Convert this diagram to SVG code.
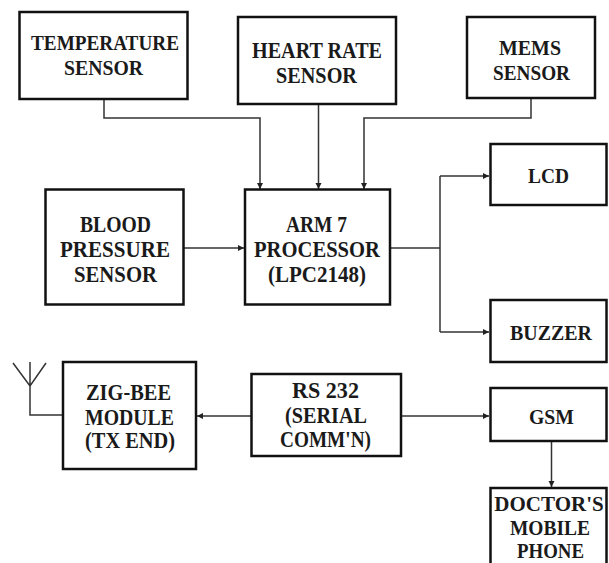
<svg xmlns="http://www.w3.org/2000/svg" width="609" height="563" viewBox="0 0 609 563">
<style>
.box{fill:#fff;stroke:#111;stroke-width:2.5}
.t{font-family:"Liberation Serif","DejaVu Serif","Times New Roman",serif;font-weight:bold;fill:#1a1a1a}
.c{fill:none;stroke:#333;stroke-width:1.5}
</style>
<defs>
<marker id="ah" markerUnits="userSpaceOnUse" markerWidth="8" markerHeight="8" refX="6" refY="3" orient="auto">
<path d="M0,0 L6,3 L0,6 Z" fill="#222"/>
</marker>
</defs>
<rect width="609" height="563" fill="#fff"/>
<g id="connectors">
<path class="c" d="M104 99 V118 H260 V189" marker-end="url(#ah)"/>
<path class="c" d="M318.5 104 V189" marker-end="url(#ah)"/>
<path class="c" d="M531 98 V118 H364 V189" marker-end="url(#ah)"/>
<path class="c" d="M184 248 H244" marker-end="url(#ah)"/>
<path class="c" d="M390 248 H440"/>
<path class="c" d="M440 176 V332"/>
<path class="c" d="M440 176 H489" marker-end="url(#ah)"/>
<path class="c" d="M440 332 H489" marker-end="url(#ah)"/>
<path class="c" d="M251.5 416 H197" marker-end="url(#ah)"/>
<path class="c" d="M401 416 H489" marker-end="url(#ah)"/>
<path class="c" d="M551.5 441 V487" marker-end="url(#ah)"/>
</g>
<g id="temperature">
<rect class="box" x="19.5" y="12" width="168" height="87"/>
<text class="t" x="31" y="50" font-size="22" textLength="148" lengthAdjust="spacingAndGlyphs">TEMPERATURE</text>
<text class="t" x="64" y="75" font-size="22" textLength="79" lengthAdjust="spacingAndGlyphs">SENSOR</text>
</g>
<g id="heartrate">
<rect class="box" x="238" y="17" width="158" height="87"/>
<text class="t" x="252" y="58" font-size="23" textLength="130" lengthAdjust="spacingAndGlyphs">HEART RATE</text>
<text class="t" x="276" y="83" font-size="23" textLength="81" lengthAdjust="spacingAndGlyphs">SENSOR</text>
</g>
<g id="mems">
<rect class="box" x="467" y="17" width="128" height="81"/>
<text class="t" x="499" y="55" font-size="22" textLength="62" lengthAdjust="spacingAndGlyphs">MEMS</text>
<text class="t" x="493" y="80" font-size="22" textLength="77" lengthAdjust="spacingAndGlyphs">SENSOR</text>
</g>
<g id="lcd">
<rect class="box" x="490.5" y="144" width="116" height="61"/>
<text class="t" x="528" y="183" font-size="22" textLength="41" lengthAdjust="spacingAndGlyphs">LCD</text>
</g>
<g id="bloodpressure">
<rect class="box" x="45.5" y="189.5" width="138" height="115"/>
<text class="t" x="80" y="232" font-size="24" textLength="71" lengthAdjust="spacingAndGlyphs">BLOOD</text>
<text class="t" x="60" y="257" font-size="24" textLength="110" lengthAdjust="spacingAndGlyphs">PRESSURE</text>
<text class="t" x="74" y="282" font-size="24" textLength="83" lengthAdjust="spacingAndGlyphs">SENSOR</text>
</g>
<g id="arm7">
<rect class="box" x="245" y="189.5" width="145" height="115"/>
<text class="t" x="286" y="232" font-size="24" textLength="61" lengthAdjust="spacingAndGlyphs">ARM 7</text>
<text class="t" x="254" y="257" font-size="24" textLength="126" lengthAdjust="spacingAndGlyphs">PROCESSOR</text>
<text class="t" x="268" y="282" font-size="24" textLength="98" lengthAdjust="spacingAndGlyphs">(LPC2148)</text>
</g>
<g id="buzzer">
<rect class="box" x="490.5" y="300" width="116" height="62"/>
<text class="t" x="510" y="340" font-size="22" textLength="82" lengthAdjust="spacingAndGlyphs">BUZZER</text>
</g>
<g id="zigbee">
<path class="c" d="M30 362 V415 H63 M13 363 L30 386 L46 363"/>
<rect class="box" x="63" y="362" width="133" height="107"/>
<text class="t" x="86" y="400" font-size="23" textLength="85" lengthAdjust="spacingAndGlyphs">ZIG-BEE</text>
<text class="t" x="85" y="425" font-size="23" textLength="89" lengthAdjust="spacingAndGlyphs">MODULE</text>
<text class="t" x="85" y="448" font-size="23" textLength="90" lengthAdjust="spacingAndGlyphs">(TX END)</text>
</g>
<g id="rs232">
<rect class="box" x="251.5" y="374" width="149.5" height="82"/>
<text class="t" x="292" y="398" font-size="23" textLength="67" lengthAdjust="spacingAndGlyphs">RS 232</text>
<text class="t" x="285" y="423" font-size="23" textLength="82" lengthAdjust="spacingAndGlyphs">(SERIAL</text>
<text class="t" x="280" y="447" font-size="23" textLength="91" lengthAdjust="spacingAndGlyphs">COMM'N)</text>
</g>
<g id="gsm">
<rect class="box" x="490.5" y="388" width="116" height="53"/>
<text class="t" x="529" y="424" font-size="22" textLength="45" lengthAdjust="spacingAndGlyphs">GSM</text>
</g>
<g id="doctor">
<rect class="box" x="490.5" y="488" width="116" height="90"/>
<text class="t" x="549" y="511" font-size="21" text-anchor="middle">DOCTOR'S</text>
<text class="t" x="510" y="535" font-size="22" textLength="80" lengthAdjust="spacingAndGlyphs">MOBILE</text>
<text class="t" x="517" y="558" font-size="22" textLength="67" lengthAdjust="spacingAndGlyphs">PHONE</text>
</g>
</svg>
